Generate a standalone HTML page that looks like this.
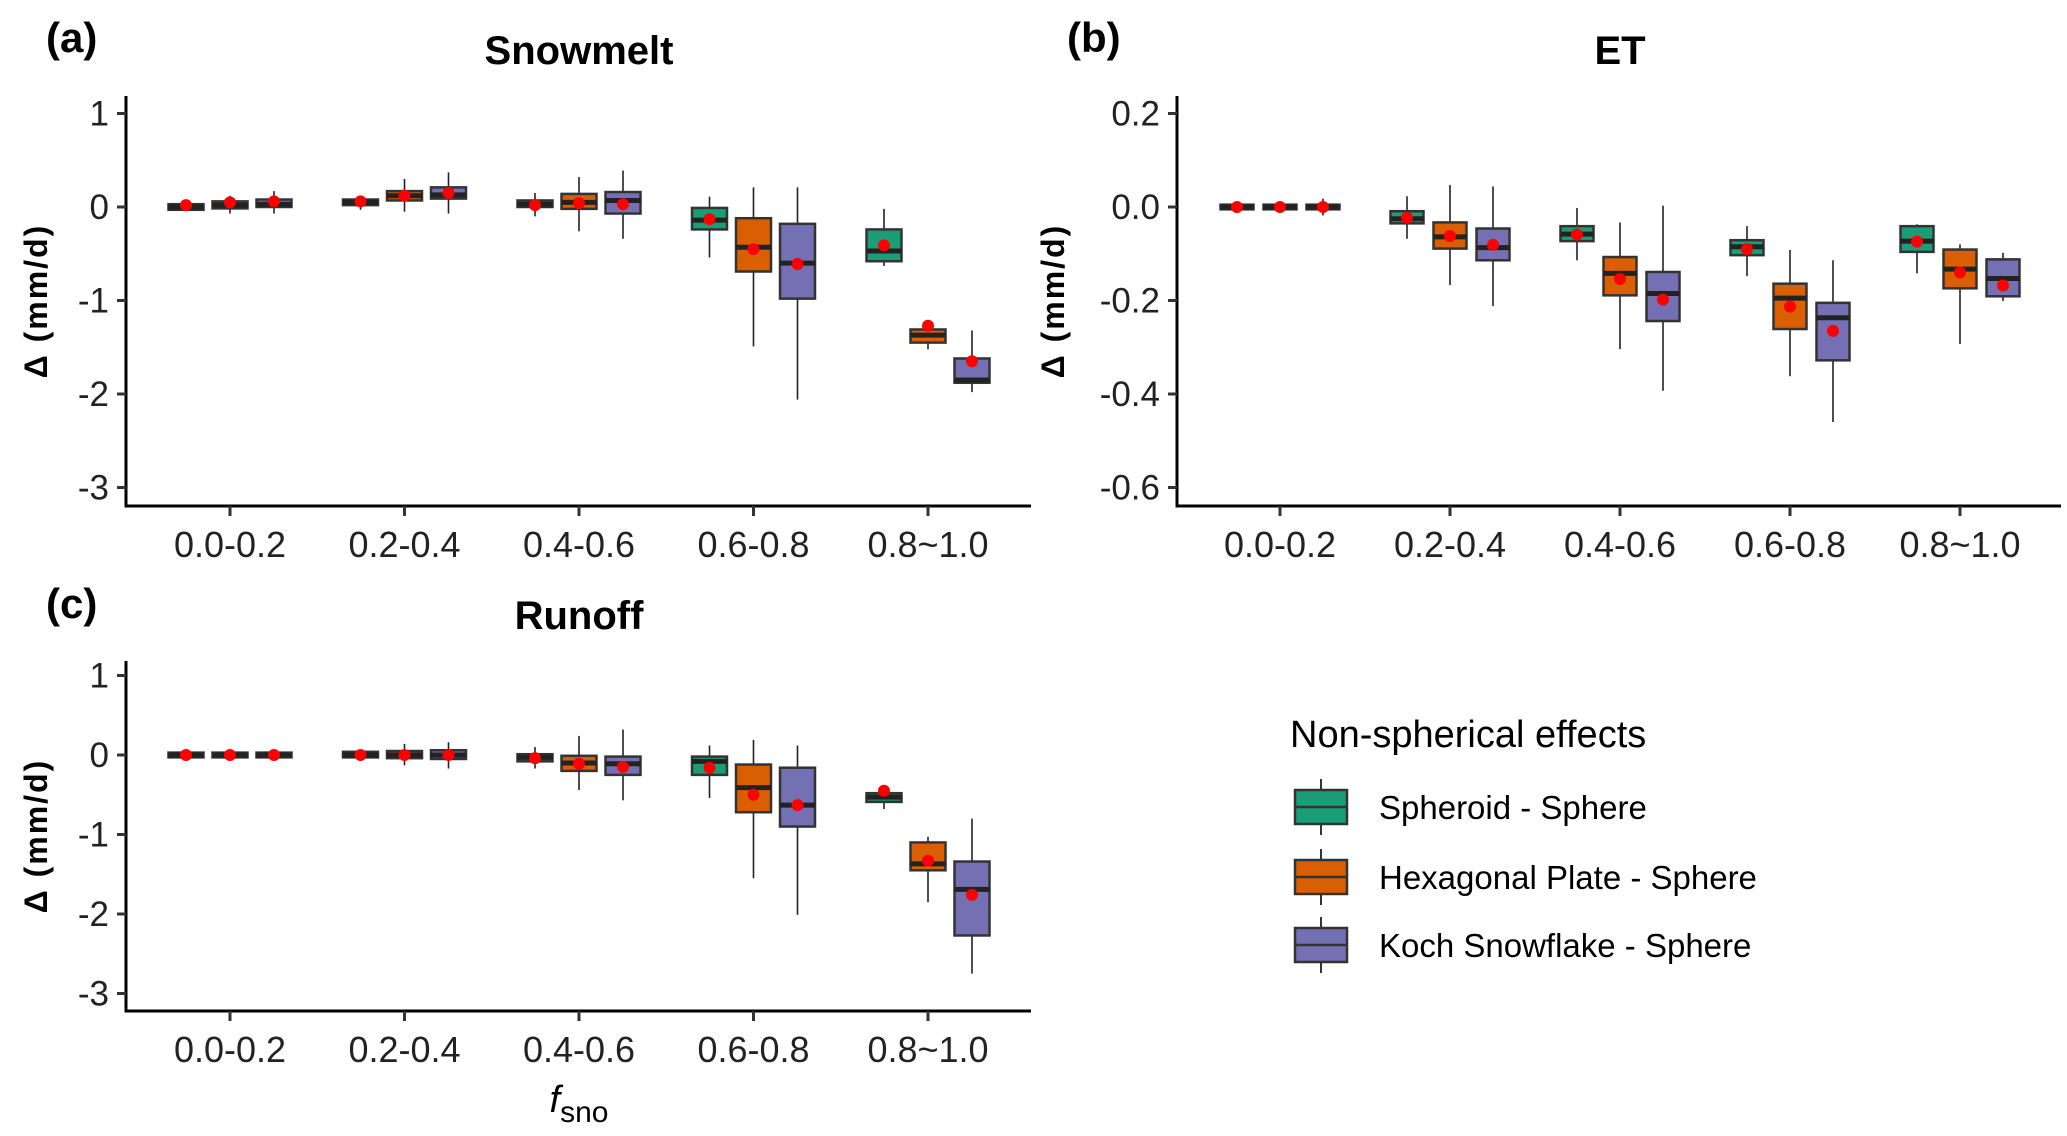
<!DOCTYPE html>
<html><head><meta charset="utf-8"><style>
html,body{margin:0;padding:0;background:#fff;}
svg{display:block;font-family:"Liberation Sans",Arial,sans-serif;}
</style></head><body>
<svg id="fig" width="2067" height="1136" viewBox="0 0 2067 1136">
<g font-weight="bold" font-size="42">
<text x="46" y="52">(a)</text>
<text x="1067" y="52">(b)</text>
<text x="46" y="618">(c)</text>
</g>
<g font-weight="bold" font-size="40" text-anchor="middle">
<text x="579" y="64">Snowmelt</text>
<text x="1620" y="64">ET</text>
<text x="579" y="629">Runoff</text>
</g>
<text x="579" y="1112" font-size="38" font-style="italic" text-anchor="middle">f<tspan font-style="normal" font-size="30" dy="10">sno</tspan></text>
<g id="legend">
<text x="1290" y="747" font-size="38">Non-spherical effects</text>
</g>
</svg>
<script>
const categories = ["0.0-0.2","0.2-0.4","0.4-0.6","0.6-0.8","0.8~1.0"];
const seriesNames = ["Spheroid - Sphere","Hexagonal Plate - Sphere","Koch Snowflake - Sphere"];
const colors = ["#1b9e77","#d95f02","#7570b3"];
// each entry: [lowerWhisker, q1, median, q3, upperWhisker, mean]
const snowSpheroid = [[-0.04,-0.03,0.0,0.03,0.04,0.02],[-0.03,0.02,0.05,0.08,0.12,0.06],[-0.1,0.0,0.03,0.07,0.15,0.02],[-0.54,-0.24,-0.14,-0.01,0.11,-0.13],[-0.63,-0.58,-0.47,-0.24,-0.02,-0.41]];
const snowHexagonal = [[-0.07,-0.015,0.02,0.06,0.12,0.05],[-0.05,0.07,0.12,0.17,0.30,0.12],[-0.26,-0.02,0.05,0.14,0.32,0.04],[-1.49,-0.69,-0.43,-0.12,0.21,-0.45],[-1.52,-1.45,-1.37,-1.31,-1.31,-1.27]];
const snowKoch = [[-0.07,0.0,0.03,0.08,0.17,0.06],[-0.07,0.09,0.13,0.21,0.37,0.15],[-0.34,-0.07,0.07,0.16,0.39,0.03],[-2.06,-0.98,-0.6,-0.18,0.21,-0.61],[-1.98,-1.88,-1.85,-1.62,-1.32,-1.65]];
const etSpheroid = [[-0.005,-0.005,0.0,0.005,0.005,0.0],[-0.068,-0.035,-0.025,-0.009,0.023,-0.023],[-0.114,-0.073,-0.058,-0.041,-0.002,-0.059],[-0.148,-0.103,-0.085,-0.071,-0.041,-0.09],[-0.142,-0.096,-0.073,-0.041,-0.037,-0.074]];
const etHexagonal = [[-0.012,-0.005,0.0,0.005,0.012,0.0],[-0.167,-0.089,-0.064,-0.033,0.047,-0.062],[-0.304,-0.189,-0.142,-0.107,-0.033,-0.154],[-0.362,-0.261,-0.195,-0.164,-0.092,-0.213],[-0.293,-0.174,-0.133,-0.091,-0.08,-0.14]];
const etKoch = [[-0.018,-0.005,0.0,0.005,0.018,0.0],[-0.212,-0.114,-0.087,-0.046,0.044,-0.081],[-0.393,-0.244,-0.185,-0.139,0.003,-0.198],[-0.46,-0.328,-0.237,-0.205,-0.114,-0.265],[-0.201,-0.191,-0.153,-0.112,-0.098,-0.168]];
const runSpheroid = [[-0.04,-0.03,0.0,0.03,0.04,0.0],[-0.04,-0.03,0.0,0.04,0.05,0.0],[-0.17,-0.08,-0.03,0.01,0.1,-0.04],[-0.54,-0.25,-0.08,-0.02,0.12,-0.16],[-0.68,-0.59,-0.53,-0.48,-0.48,-0.45]];
const runHexagonal = [[-0.04,-0.03,0.0,0.03,0.04,0.0],[-0.13,-0.04,0.0,0.05,0.14,0.0],[-0.44,-0.2,-0.1,-0.01,0.24,-0.11],[-1.55,-0.72,-0.41,-0.12,0.19,-0.5],[-1.85,-1.45,-1.37,-1.1,-1.03,-1.33]];
const runKoch = [[-0.04,-0.03,0.0,0.03,0.04,0.0],[-0.17,-0.05,0.0,0.06,0.16,0.0],[-0.57,-0.25,-0.11,-0.02,0.32,-0.15],[-2.01,-0.9,-0.63,-0.16,0.12,-0.63],[-2.75,-2.27,-1.69,-1.34,-0.8,-1.76]];
const snowTicks = [1,0,-1,-2,-3];
const snowTickLabels = ["1","0","-1","-2","-3"];
const etTicks = [0.2,0.0,-0.2,-0.4,-0.6];
const etTickLabels = ["0.2","0.0","-0.2","-0.4","-0.6"];
const runTicks = [1,0,-1,-2,-3];
const runTickLabels = ["1","0","-1","-2","-3"];

const NS="http://www.w3.org/2000/svg";
const svg=document.getElementById('fig');
function mk(tag,attrs,parent){const e=document.createElementNS(NS,tag);for(const k in attrs)e.setAttribute(k,attrs[k]);(parent||svg).appendChild(e);return e;}

function panel(cfg){
  const g=mk('g',{});
  
  
  const y=v=>cfg.y0-(v/cfg.unit)*cfg.ppu;
  const x=i=>cfg.xc0+cfg.xstep*i;
  const sets=[cfg.s0,cfg.s1,cfg.s2];
  categories.forEach((c,i)=>{
    sets.forEach((arr,s)=>{
      const d=arr[i];const cx=x(i)+(s-1)*cfg.off;const bw=cfg.bw;
      const bg=mk('g',{},g);
      
      
      mk('line',{x1:cx,x2:cx,y1:y(d[4]),y2:y(d[0]),stroke:'#222','stroke-width':1.6},bg);
      const top=y(d[3]),bot=y(d[1]);
      mk('rect',{x:cx-bw/2,y:top,width:bw,height:Math.max(bot-top,2),fill:colors[s],stroke:'#333','stroke-width':2.5},bg);
      mk('line',{x1:cx-bw/2,x2:cx+bw/2,y1:y(d[2]),y2:y(d[2]),stroke:'#222','stroke-width':5},bg);
      mk('circle',{cx:cx,cy:y(d[5]),r:6,fill:'#ff0000'},bg);
    });
  });
  const ax=mk('line',{x1:cfg.ax,x2:cfg.ax,y1:cfg.top,y2:cfg.bottom+1.5,stroke:'#000','stroke-width':3},g);
  
  
  const bx=mk('line',{x1:cfg.ax-1.5,x2:cfg.right,y1:cfg.bottom,y2:cfg.bottom,stroke:'#000','stroke-width':3},g);
  
  
  cfg.ticks.forEach((t,k)=>{
    mk('line',{x1:cfg.ax-9,x2:cfg.ax,y1:y(t),y2:y(t),stroke:'#333','stroke-width':3},g);
    const tl=mk('text',{x:cfg.ax-17,y:y(t)+12,'font-size':35,'text-anchor':'end',fill:'#222'},g);
    tl.textContent=cfg.tickLabels[k];
    
    
  });
  categories.forEach((c,i)=>{
    mk('line',{x1:x(i),x2:x(i),y1:cfg.bottom,y2:cfg.bottom+10,stroke:'#333','stroke-width':3},g);
    const tl=mk('text',{x:x(i),y:cfg.bottom+51,'font-size':36,'text-anchor':'middle',fill:'#222'},g);
    tl.textContent=c;
    
    
  });
  const yt=mk('text',{x:0,y:0,'font-size':32,'font-weight':'bold','letter-spacing':2,'text-anchor':'middle',transform:'translate('+cfg.ytx+','+((cfg.top+cfg.bottom)/2)+') rotate(-90)'},g);
  yt.textContent='Δ (mm/d)';
  
  
}
panel({name:'snowmelt-panel',s0:snowSpheroid,s1:snowHexagonal,s2:snowKoch,ticks:snowTicks,tickLabels:snowTickLabels,unit:1,ppu:93.5,y0:207,xc0:230,xstep:174.5,off:44,bw:35,ax:126,top:96,bottom:506,right:1031,ytx:47});
panel({name:'et-panel',s0:etSpheroid,s1:etHexagonal,s2:etKoch,ticks:etTicks,tickLabels:etTickLabels,unit:0.2,ppu:93.5,y0:207,xc0:1280,xstep:170,off:43,bw:33,ax:1177,top:96,bottom:506,right:2061,ytx:1064});
panel({name:'runoff-panel',s0:runSpheroid,s1:runHexagonal,s2:runKoch,ticks:runTicks,tickLabels:runTickLabels,unit:1,ppu:79.5,y0:755,xc0:230,xstep:174.5,off:44,bw:35,ax:126,top:661,bottom:1011,right:1031,ytx:47});

const lg=document.getElementById('legend');
const rowsY=[807,877,945];
seriesNames.forEach((n,s)=>{
  const eg=mk('g',{},lg);
  
  
  const cy=rowsY[s];
  mk('line',{x1:1321,x2:1321,y1:cy-28,y2:cy+28,stroke:'#333','stroke-width':2},eg);
  mk('rect',{x:1295,y:cy-17,width:52,height:34,fill:colors[s],stroke:'#333','stroke-width':2.5},eg);
  mk('line',{x1:1295,x2:1347,y1:cy,y2:cy,stroke:'#333','stroke-width':2.5},eg);
  const t=mk('text',{x:1379,y:cy+12,'font-size':33},eg);
  t.textContent=n;
  
  
});
</script>
</body></html>
